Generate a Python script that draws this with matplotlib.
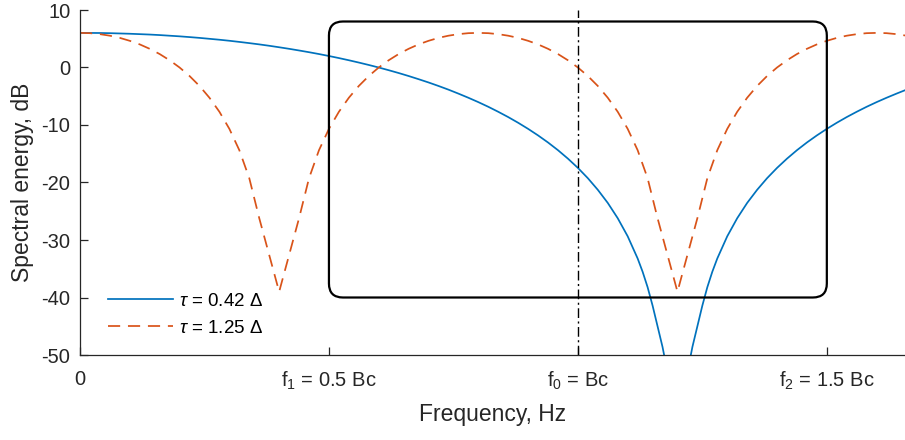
import numpy as np
import matplotlib
matplotlib.use('Agg')
from matplotlib import pyplot as plt
from matplotlib.patches import FancyBboxPatch

plt.rcParams['font.family'] = ['Liberation Sans', 'DejaVu Sans']
plt.rcParams['mathtext.fontset'] = 'custom'
plt.rcParams['mathtext.rm'] = 'Liberation Sans'
plt.rcParams['mathtext.it'] = 'Liberation Sans:italic'
plt.rcParams['axes.unicode_minus'] = False

# frequency axis in units of Bc
freq_tau_short = [0.00, 0.02, 0.04, 0.06, 0.08, 0.10, 0.12, 0.14, 0.16, 0.18,
                  0.20, 0.22, 0.24, 0.26, 0.28, 0.30, 0.32, 0.34, 0.36, 0.38,
                  0.40, 0.42, 0.44, 0.46, 0.48, 0.50, 0.52, 0.54, 0.56, 0.58,
                  0.60, 0.62, 0.64, 0.66, 0.68, 0.70, 0.72, 0.74, 0.76, 0.78,
                  0.80, 0.82, 0.84, 0.86, 0.88, 0.90, 0.92, 0.94, 0.96, 0.98,
                  1.00, 1.02, 1.04, 1.06, 1.08, 1.10, 1.12, 1.13, 1.14, 1.15,
                  1.16, 1.17, 1.18, 1.20, 1.22, 1.23, 1.24, 1.25, 1.26, 1.27,
                  1.28, 1.30, 1.32, 1.34, 1.36, 1.38, 1.40, 1.42, 1.44, 1.46,
                  1.48, 1.50, 1.52, 1.54, 1.56, 1.58, 1.60, 1.62, 1.64, 1.66,
                  1.68]
energy_tau_short = [6.02, 6.01, 6.00, 5.97, 5.92, 5.87, 5.80, 5.73, 5.64, 5.53,
                    5.42, 5.29, 5.15, 4.99, 4.83, 4.65, 4.45, 4.24, 4.02, 3.78,
                    3.52, 3.25, 2.96, 2.66, 2.34, 2.00, 1.64, 1.26, 0.86, 0.44,
                    0.00, -0.47, -0.96, -1.48, -2.03, -2.60, -3.21, -3.85, -4.54, -5.26,
                    -6.02, -6.83, -7.70, -8.62, -9.61, -10.67, -11.81, -13.04, -14.38, -15.85,
                    -17.46, -19.25, -21.27, -23.55, -26.21, -29.35, -33.21, -35.52, -38.2, -41.4,
                    -45.0, -48.6, -53.0, -70.0, -53.0, -48.6, -45.0, -41.4, -38.2, -35.52,
                    -33.21, -29.35, -26.21, -23.55, -21.27, -19.25, -17.46, -15.85, -14.38, -13.04,
                    -11.81, -10.67, -9.61, -8.62, -7.70, -6.83, -6.02, -5.26, -4.54, -3.85,
                    -3.21]

freq_tau_long = [0.00, 0.02, 0.04, 0.06, 0.08, 0.10, 0.12, 0.14, 0.16, 0.18,
                 0.20, 0.22, 0.24, 0.26, 0.28, 0.30, 0.32, 0.34, 0.36, 0.40,
                 0.44, 0.46, 0.48, 0.50, 0.52, 0.54, 0.56, 0.58, 0.60, 0.62,
                 0.64, 0.66, 0.68, 0.70, 0.72, 0.74, 0.76, 0.78, 0.80, 0.82,
                 0.84, 0.86, 0.88, 0.90, 0.92, 0.94, 0.96, 0.98, 1.00, 1.02,
                 1.04, 1.06, 1.08, 1.10, 1.12, 1.14, 1.16, 1.20, 1.24, 1.26,
                 1.28, 1.30, 1.32, 1.34, 1.36, 1.38, 1.40, 1.42, 1.44, 1.46,
                 1.48, 1.50, 1.52, 1.54, 1.56, 1.58, 1.60, 1.62, 1.64, 1.66,
                 1.68]
energy_tau_long = [6.02, 5.97, 5.80, 5.53, 5.15, 4.64, 4.02, 3.25, 2.34, 1.26,
                   0.00, -1.48, -3.21, -5.26, -7.70, -10.67, -14.38, -19.25, -26.2, -39.0,
                   -26.2, -19.25, -14.38, -10.67, -7.70, -5.26, -3.21, -1.48, 0.00, 1.26,
                   2.34, 3.25, 4.02, 4.64, 5.15, 5.53, 5.80, 5.97, 6.02, 5.97,
                   5.80, 5.53, 5.15, 4.64, 4.02, 3.25, 2.34, 1.26, 0.00, -1.48,
                   -3.21, -5.26, -7.70, -10.67, -14.38, -19.25, -26.2, -39.0, -26.2, -19.25,
                   -14.38, -10.67, -7.70, -5.26, -3.21, -1.48, 0.00, 1.26, 2.34, 3.25,
                   4.02, 4.64, 5.15, 5.53, 5.80, 5.97, 6.02, 5.97, 5.80, 5.53,
                   5.15]

labels = [r'$\tau$ = 0.42 Δ', r'$\tau$ = 1.25 Δ']
xtick_pos = [0, 0.5, 1.0, 1.5]
xtick_labels = ['0', r'f$_1$ = 0.5 Bc', r'f$_0$ = Bc', r'f$_2$ = 1.5 Bc']
ytick_pos = [10, 0, -10, -20, -30, -40, -50]

# band of interest and centre frequency
band = (0.5, 1.5)
band_db = (-40, 8)
f0 = 1.0

x_max = 1.657
y_min, y_max = -50, 10

fig = plt.figure(figsize=(9.05, 4.4), dpi=100)
ax = fig.add_axes([80 / 905, 85 / 440, 825 / 905, 345 / 440])

blue = '#0072BD'
orange = '#D95319'
dark = '#262626'

ax.plot(freq_tau_short, energy_tau_short, color=blue, lw=1.25, label=labels[0])
ax.plot(freq_tau_long, energy_tau_long, color=orange, lw=1.25, dashes=(7, 4.5), label=labels[1])

ax.axvline(f0, color='k', lw=1.0, ls=(0, (7, 2.5, 1.5, 2.5)))

ax.set_xlim(0, x_max)
ax.set_ylim(y_min, y_max)

# rounded box: keep the corners circular despite unequal axis scales
ax_w = 825
ax_h = 345
x_per_px = x_max / ax_w
db_per_px = (y_max - y_min) / ax_h
box = FancyBboxPatch((band[0], band_db[0]), band[1] - band[0], band_db[1] - band_db[0],
                     boxstyle=f'round,pad=0,rounding_size={14 * x_per_px}',
                     mutation_aspect=db_per_px / x_per_px,
                     fill=False, ec='k', lw=1.6, zorder=3)
ax.add_patch(box)

ax.set_xticks(xtick_pos)
ax.set_xticklabels(xtick_labels)
ax.set_yticks(ytick_pos)

ax.spines['top'].set_visible(False)
ax.spines['right'].set_visible(False)
for side in ['left', 'bottom']:
    ax.spines[side].set_color(dark)
    ax.spines[side].set_linewidth(0.9)
ax.tick_params(direction='in', length=6, width=0.9, colors=dark, labelsize=14.5)
ax.tick_params(axis='x', pad=10.5)
ax.tick_params(axis='y', pad=7)

ax.set_xlabel('Frequency, Hz', fontsize=16.5, color=dark, labelpad=8)
ax.set_ylabel('Spectral energy, dB', fontsize=16.5, color=dark, labelpad=5)

ax.legend(loc='upper left', bbox_to_anchor=(0.0335, 0.18), frameon=False,
          fontsize=13.5, handlelength=3.5, handletextpad=0.3, labelspacing=0.5,
          borderpad=0, borderaxespad=0)

plt.savefig('out.png', dpi=100)
